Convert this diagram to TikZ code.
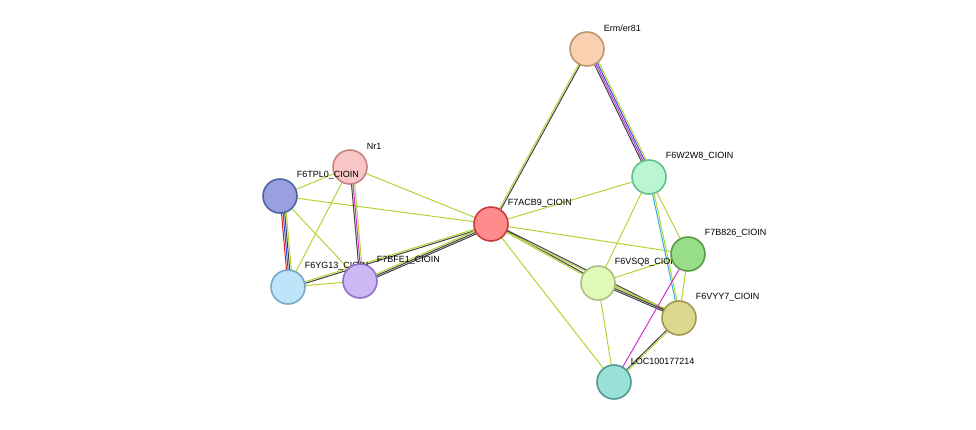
\documentclass[tikz,border=0pt]{standalone}
\usepackage{fontspec}
\setmainfont{Liberation Sans}
\usetikzlibrary{calc,backgrounds}
\definecolor{yg}{HTML}{B5D334}
\definecolor{dk}{HTML}{404040}
\definecolor{mg}{HTML}{D430D0}
\definecolor{bl}{HTML}{3050E0}
\definecolor{cy}{HTML}{30B0E0}
\definecolor{rd}{HTML}{E02020}
\tikzset{
    prot/.style={
        circle,
        line width=1.6pt,
        minimum size=34pt,
        inner sep=0pt,
    },
    lbl/.style={
        font=\fontsize{9}{10}\selectfont,
        anchor=west,
        xshift=4pt,
        yshift=8pt,
        inner sep=0pt,
    },
    edge/.style={line width=1pt},
}
% parallel coloured lines between two nodes
\newcommand{\link}[3]{%
  \foreach \c [count=\i] in {#3} {
    \pgfmathsetmacro{\off}{(\i-1)*1.6}
    \draw[edge,\c] ($(#1)!\off pt!90:(#2)$) -- ($(#2)!\off pt!-90:(#1)$);
  }}
\begin{document}
\begin{tikzpicture}[x=1pt,y=-1pt]
    \useasboundingbox (0,0) rectangle (976,429);
    \node [prot,fill={rgb,255:red,249;green,208;blue,176},draw={rgb,255:red,190;green,150;blue,110},label={[lbl]45:Erm/er81}] (erm) at (587,49) {};
    \node [prot,fill={rgb,255:red,186;green,246;blue,208},draw={rgb,255:red,100;green,190;blue,140},label={[lbl]45:F6W2W8\_CIOIN}] (f6w2w8) at (649,177) {};
    \node [prot,fill={rgb,255:red,255;green,140;blue,140},draw={rgb,255:red,200;green,60;blue,60},label={[lbl]45:F7ACB9\_CIOIN}] (f7acb9) at (491,224) {};
    \node [prot,fill={rgb,255:red,248;green,198;blue,198},draw={rgb,255:red,200;green,130;blue,130},label={[lbl]45:Nr1}] (nr1) at (350,167) {};
    \node [prot,fill={rgb,255:red,152;green,160;blue,224},draw={rgb,255:red,80;green,96;blue,160},label={[lbl]45:F6TPL0\_CIOIN}] (f6tpl) at (280,196) {};
    \node [prot,fill={rgb,255:red,189;green,228;blue,248},draw={rgb,255:red,122;green,168;blue,200},label={[lbl]45:F6YG13\_CIOIN}] (f6yg13) at (288,287) {};
    \node [prot,fill={rgb,255:red,205;green,184;blue,245},draw={rgb,255:red,144;green,112;blue,200},label={[lbl]45:F7BFE1\_CIOIN}] (f7bfe1) at (360,281) {};
    \node [prot,fill={rgb,255:red,224;green,248;blue,184},draw={rgb,255:red,168;green,192;blue,128},label={[lbl]45:F6VSQ8\_CIOIN}] (f6vsq8) at (598,283) {};
    \node [prot,fill={rgb,255:red,152;green,221;blue,136},draw={rgb,255:red,90;green,154;blue,72},label={[lbl]45:F7B826\_CIOIN}] (f7b826) at (688,254) {};
    \node [prot,fill={rgb,255:red,220;green,216;blue,144},draw={rgb,255:red,160;green,154;blue,80},label={[lbl]45:F6VYY7\_CIOIN}] (f6vyy7) at (679,318) {};
    \node [prot,fill={rgb,255:red,152;green,224;blue,216},draw={rgb,255:red,80;green,152;blue,144},label={[lbl]45:LOC100177214}] (loc) at (614,382) {};
    \begin{scope}[on background layer]
        \link{erm}{f7acb9}{yg,dk}
        \link{erm}{f6w2w8}{dk,mg,bl,yg}
        \link{f7acb9}{f6w2w8}{yg}
        \link{f7acb9}{f6tpl}{yg}
        \link{f7acb9}{nr1}{yg}
        \link{f7acb9}{f6yg13}{yg,dk}
        \link{f7acb9}{f7bfe1}{yg,dk,dk}
        \link{f7acb9}{f6vsq8}{yg,dk}
        \link{f7acb9}{f7b826}{yg}
        \link{f7acb9}{f6vyy7}{yg,dk}
        \link{f7acb9}{loc}{yg}
        \link{f6tpl}{f6yg13}{rd,bl,dk,yg}
        \link{f6tpl}{f7bfe1}{yg}
        \link{f6tpl}{nr1}{yg}
        \link{nr1}{f7bfe1}{dk,mg,yg}
        \link{nr1}{f6yg13}{yg}
        \link{f6yg13}{f7bfe1}{yg}
        \link{f6w2w8}{f6vsq8}{yg}
        \link{f6w2w8}{f7b826}{yg}
        \link{f6w2w8}{f6vyy7}{cy,yg}
        \link{f6vsq8}{f6vyy7}{dk,dk,yg}
        \link{f6vsq8}{loc}{yg}
        \link{f6vsq8}{f7b826}{yg}
        \link{f7b826}{loc}{mg}
        \link{f7b826}{f6vyy7}{yg}
        \link{f6vyy7}{loc}{dk,yg}
    \end{scope}
\end{tikzpicture}
\end{document}
